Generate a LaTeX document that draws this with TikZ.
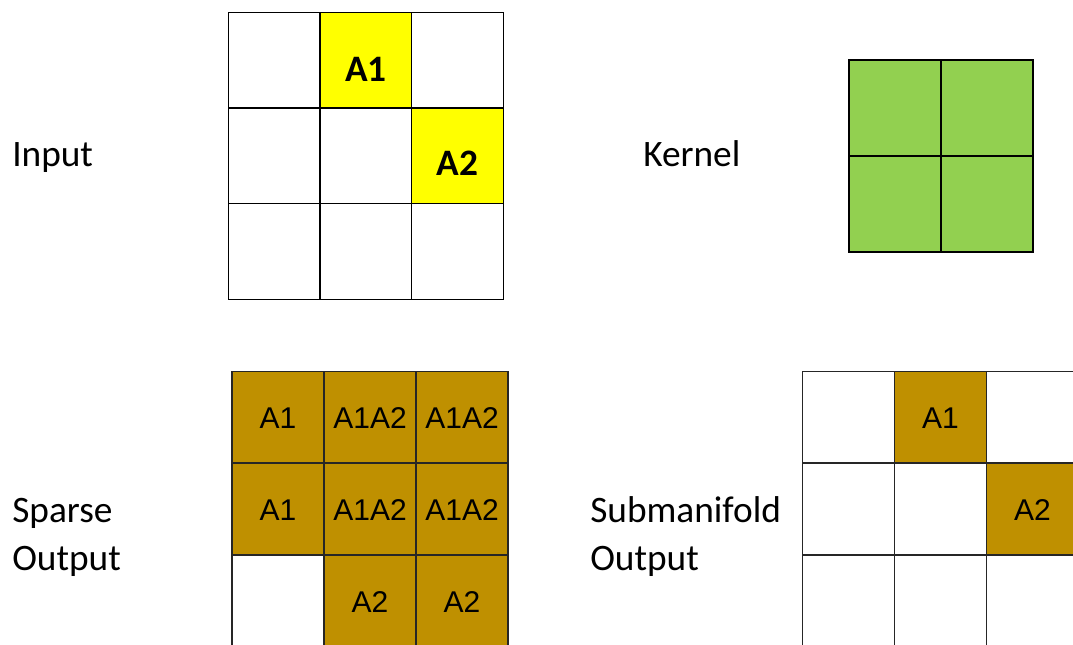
\documentclass[tikz,border=0pt]{standalone}
\usepackage{fontspec}
\setmainfont{Carlito}
\newfontfamily\cellfont{Liberation Sans}
\usepackage{xcolor}
\definecolor{InYellow}{RGB}{255, 255, 0}
\definecolor{KerGreen}{RGB}{146, 208, 80}
\definecolor{OutGold}{RGB}{191, 144, 0}
\usetikzlibrary{positioning}

\begin{document}
\begin{tikzpicture}[x=0.75pt, y=-0.75pt,
            incell/.style={draw=black, line width=0.8pt, minimum width=68.8pt, minimum height=71.8pt, inner sep=0pt, font=\fontsize{28}{32}\selectfont\bfseries},
            kercell/.style={draw=black, line width=0.9pt, fill=KerGreen, minimum width=69pt, minimum height=72pt, inner sep=0pt},
            outcell/.style={draw=black!85, line width=1.3pt, minimum size=69pt, inner sep=0pt, text height=17pt, text depth=0pt, font=\cellfont\fontsize{22.5}{26}\selectfont},
            active/.style={fill=InYellow, text depth=0pt},
            hit/.style={fill=OutGold},
            caption/.style={anchor=base west, inner sep=0pt, align=left, font=\fontsize{28}{36}\selectfont}
        ]
        \useasboundingbox (0,0) rectangle (1073,645);
        \clip (0,0) rectangle (1073,645);

        % Input
        \node[caption] (lin) at (12,167) {Input};
        \node[incell] (i11) at (274,60) {};
        \node[incell, active, text height=33pt] (i12) at (366,60) {A1};
        \node[incell] (i13) at (457.5,60) {};
        \node[incell] (i21) at (274,156) {};
        \node[incell] (i22) at (366,156) {};
        \node[incell, active, text height=30pt] (i23) at (457.5,156) {A2};
        \node[incell] (i31) at (274,251.5) {};
        \node[incell] (i32) at (366,251.5) {};
        \node[incell] (i33) at (457.5,251.5) {};

        % Kernel
        \node[caption] (lker) at (643,167) {Kernel};
        \node[kercell] (k11) at (895,108) {};
        \node[kercell] (k12) at (987,108) {};
        \node[kercell] (k21) at (895,204) {};
        \node[kercell] (k22) at (987,204) {};

        % Sparse output
        \node[caption] (lsp) at (12,570) {Sparse\\Output};
        \node[outcell, hit] (s11) at (278,417.5) {A1};
        \node[outcell, hit] (s12) at (370,417.5) {A1A2};
        \node[outcell, hit] (s13) at (462,417.5) {A1A2};
        \node[outcell, hit] (s21) at (278,509) {A1};
        \node[outcell, hit] (s22) at (370,509) {A1A2};
        \node[outcell, hit] (s23) at (462,509) {A1A2};
        \node[outcell] (s31) at (278,601) {};
        \node[outcell, hit] (s32) at (370,601) {A2};
        \node[outcell, hit] (s33) at (462,601) {A2};

        % Submanifold output
        \node[caption] (lsub) at (590,570) {Submanifold\\Output};
        \node[outcell] (m11) at (848.5,417.5) {};
        \node[outcell, hit] (m12) at (940.5,417.5) {A1};
        \node[outcell] (m13) at (1032.5,417.5) {};
        \node[outcell] (m21) at (848.5,509) {};
        \node[outcell] (m22) at (940.5,509) {};
        \node[outcell, hit] (m23) at (1032.5,509) {A2};
        \node[outcell] (m31) at (848.5,601) {};
        \node[outcell] (m32) at (940.5,601) {};
        \node[outcell] (m33) at (1032.5,601) {};

        \end{tikzpicture}
\end{document}
